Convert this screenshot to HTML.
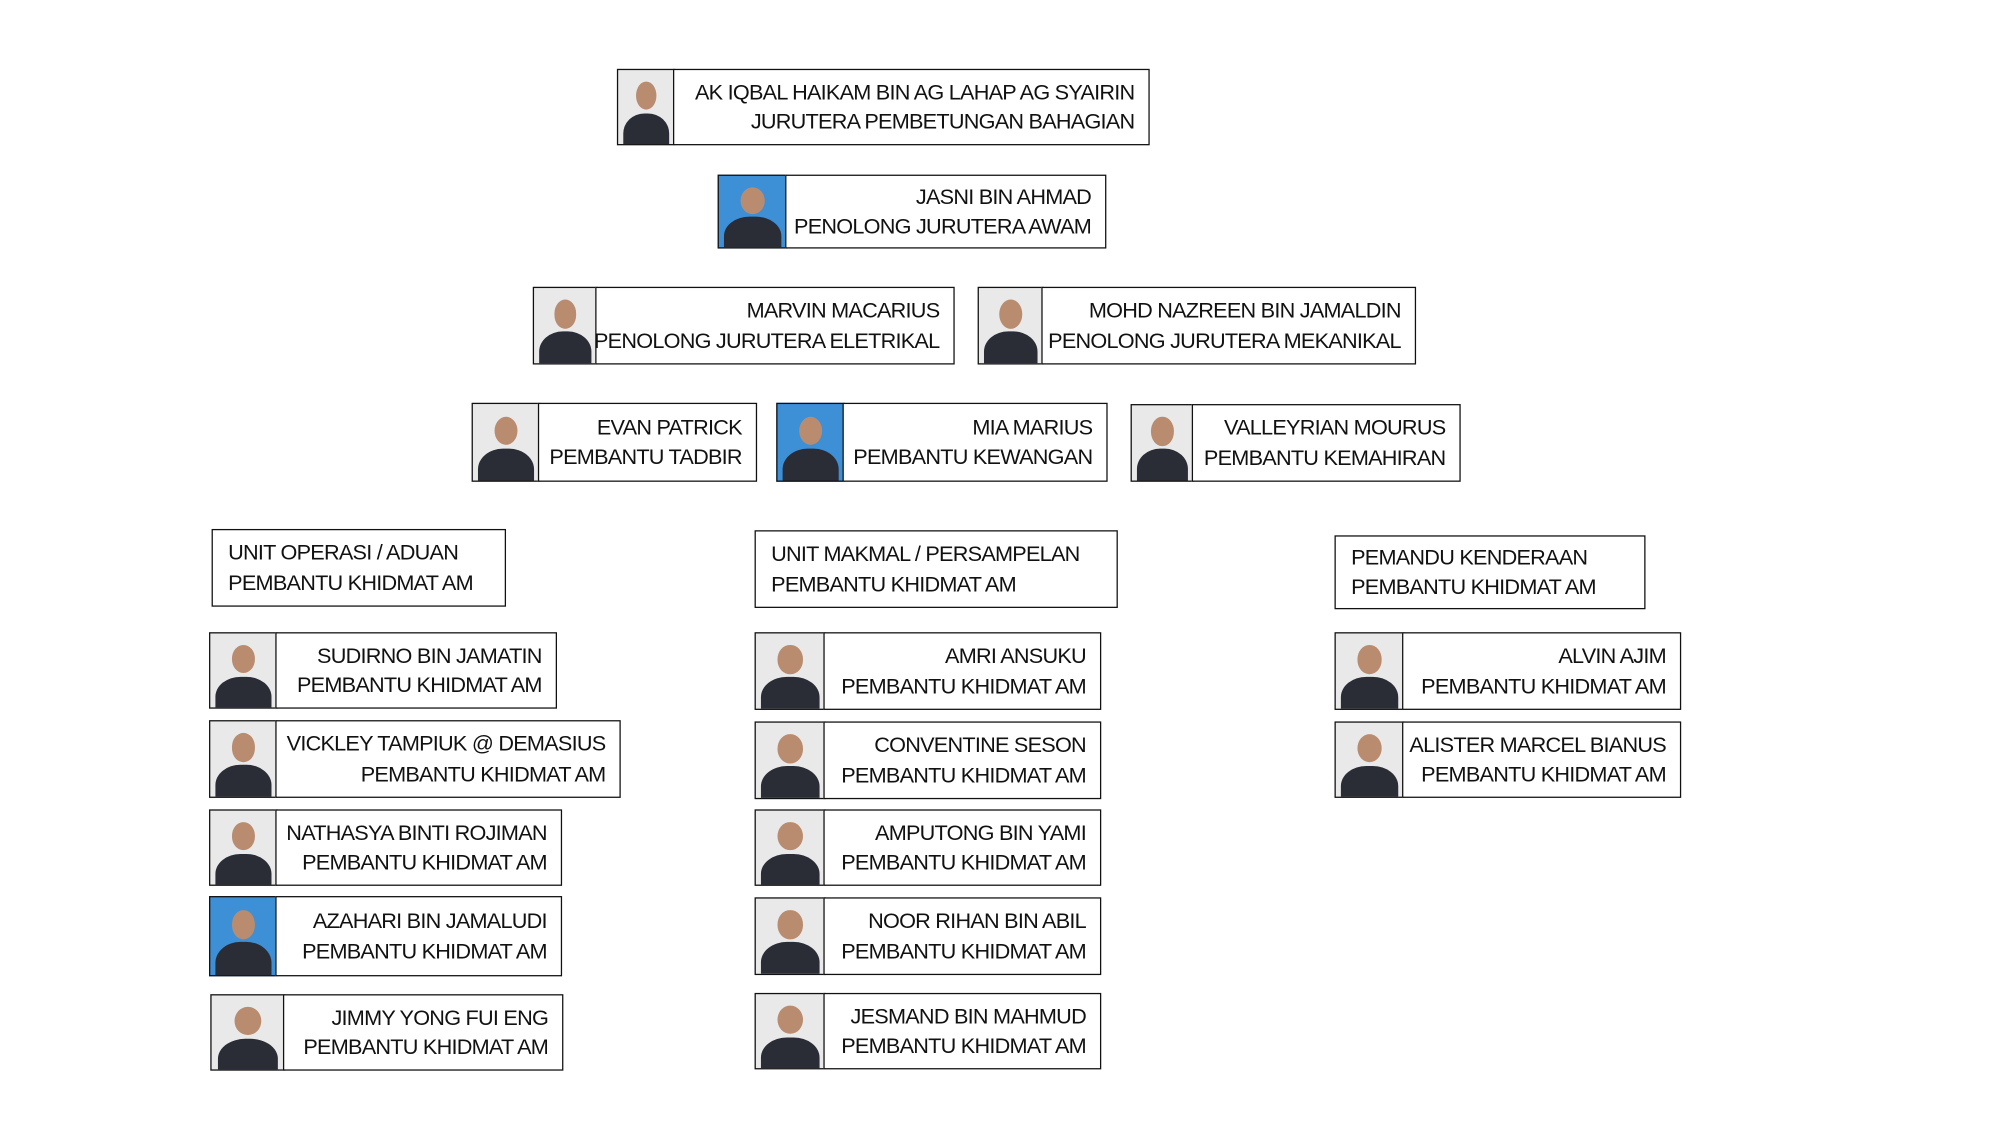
<!DOCTYPE html>
<html><head><meta charset="utf-8"><style>
html,body{margin:0;padding:0;background:#fff;}
body{width:2000px;height:1125px;overflow:hidden;position:relative;}
#w{position:absolute;left:0;top:0;width:1555px;height:875px;transform:scale(1.2746);transform-origin:0 0;}
.b{position:absolute;border:1.6px solid #111;box-sizing:border-box;background:#fff;font-family:"Liberation Sans",sans-serif;font-size:17px;letter-spacing:-0.6px;line-height:23.5px;color:#111;white-space:nowrap;text-align:right;padding-right:11px;display:flex;flex-direction:column;justify-content:center;align-items:flex-end;}
.b.l{align-items:flex-start;padding-left:12px;text-align:left;}
.p{position:absolute;border:1.6px solid #111;box-sizing:border-box;overflow:hidden;background:#e9e9e9;}
.p::before{content:"";position:absolute;left:32%;top:16%;width:36%;height:38%;border-radius:50%;background:#b98c70;}
.p::after{content:"";position:absolute;left:8%;top:58%;width:84%;height:60%;border-radius:45% 45% 0 0;background:#2a2d35;}
.p.blue{background:#3d8fd6;}
</style></head><body><div id="w">
<div class="p" style="left:484px;top:54px;width:46px;height:60px"></div>
<div class="b" style="left:528px;top:54px;width:374px;height:60px"><div>AK IQBAL HAIKAM BIN AG LAHAP AG SYAIRIN</div><div>JURUTERA PEMBETUNGAN BAHAGIAN</div></div>

<div class="p blue" style="left:563px;top:137px;width:55px;height:58px"></div>
<div class="b" style="left:616px;top:137px;width:252px;height:58px"><div>JASNI BIN AHMAD</div><div>PENOLONG JURUTERA AWAM</div></div>

<div class="p" style="left:418px;top:225px;width:51px;height:61px"></div>
<div class="b" style="left:467px;top:225px;width:282px;height:61px"><div>MARVIN MACARIUS</div><div>PENOLONG JURUTERA ELETRIKAL</div></div>

<div class="p" style="left:767px;top:225px;width:52px;height:61px"></div>
<div class="b" style="left:817px;top:225px;width:294px;height:61px"><div>MOHD NAZREEN BIN JAMALDIN</div><div>PENOLONG JURUTERA MEKANIKAL</div></div>

<div class="p" style="left:370px;top:316px;width:54px;height:62px"></div>
<div class="b" style="left:422px;top:316px;width:172px;height:62px"><div>EVAN PATRICK</div><div>PEMBANTU TADBIR</div></div>

<div class="p blue" style="left:609px;top:316px;width:54px;height:62px"></div>
<div class="b" style="left:661px;top:316px;width:208px;height:62px"><div>MIA MARIUS</div><div>PEMBANTU KEWANGAN</div></div>

<div class="p" style="left:887px;top:317px;width:50px;height:61px"></div>
<div class="b" style="left:935px;top:317px;width:211px;height:61px"><div>VALLEYRIAN MOURUS</div><div>PEMBANTU KEMAHIRAN</div></div>

<div class="b l" style="left:166px;top:415px;width:231px;height:61px"><div>UNIT OPERASI / ADUAN</div><div>PEMBANTU KHIDMAT AM</div></div>
<div class="b l" style="left:592px;top:416px;width:285px;height:61px"><div>UNIT MAKMAL / PERSAMPELAN</div><div>PEMBANTU KHIDMAT AM</div></div>
<div class="b l" style="left:1047px;top:420px;width:244px;height:58px"><div>PEMANDU KENDERAAN</div><div>PEMBANTU KHIDMAT AM</div></div>

<div class="p" style="left:164px;top:496px;width:54px;height:60px"></div>
<div class="b" style="left:216px;top:496px;width:221px;height:60px"><div>SUDIRNO BIN JAMATIN</div><div>PEMBANTU KHIDMAT AM</div></div>
<div class="p" style="left:164px;top:565px;width:54px;height:61px"></div>
<div class="b" style="left:216px;top:565px;width:271px;height:61px"><div>VICKLEY TAMPIUK @ DEMASIUS</div><div>PEMBANTU KHIDMAT AM</div></div>
<div class="p" style="left:164px;top:635px;width:54px;height:60px"></div>
<div class="b" style="left:216px;top:635px;width:225px;height:60px"><div>NATHASYA BINTI ROJIMAN</div><div>PEMBANTU KHIDMAT AM</div></div>
<div class="p blue" style="left:164px;top:703px;width:54px;height:63px"></div>
<div class="b" style="left:216px;top:703px;width:225px;height:63px"><div>AZAHARI BIN JAMALUDI</div><div>PEMBANTU KHIDMAT AM</div></div>
<div class="p" style="left:165px;top:780px;width:59px;height:60px"></div>
<div class="b" style="left:222px;top:780px;width:220px;height:60px"><div>JIMMY YONG FUI ENG</div><div>PEMBANTU KHIDMAT AM</div></div>

<div class="p" style="left:592px;top:496px;width:56px;height:61px"></div>
<div class="b" style="left:646px;top:496px;width:218px;height:61px"><div>AMRI ANSUKU</div><div>PEMBANTU KHIDMAT AM</div></div>
<div class="p" style="left:592px;top:566px;width:56px;height:61px"></div>
<div class="b" style="left:646px;top:566px;width:218px;height:61px"><div>CONVENTINE SESON</div><div>PEMBANTU KHIDMAT AM</div></div>
<div class="p" style="left:592px;top:635px;width:56px;height:60px"></div>
<div class="b" style="left:646px;top:635px;width:218px;height:60px"><div>AMPUTONG BIN YAMI</div><div>PEMBANTU KHIDMAT AM</div></div>
<div class="p" style="left:592px;top:704px;width:56px;height:61px"></div>
<div class="b" style="left:646px;top:704px;width:218px;height:61px"><div>NOOR RIHAN BIN ABIL</div><div>PEMBANTU KHIDMAT AM</div></div>
<div class="p" style="left:592px;top:779px;width:56px;height:60px"></div>
<div class="b" style="left:646px;top:779px;width:218px;height:60px"><div>JESMAND BIN MAHMUD</div><div>PEMBANTU KHIDMAT AM</div></div>

<div class="p" style="left:1047px;top:496px;width:55px;height:61px"></div>
<div class="b" style="left:1100px;top:496px;width:219px;height:61px"><div>ALVIN AJIM</div><div>PEMBANTU KHIDMAT AM</div></div>
<div class="p" style="left:1047px;top:566px;width:55px;height:60px"></div>
<div class="b" style="left:1100px;top:566px;width:219px;height:60px"><div>ALISTER MARCEL BIANUS</div><div>PEMBANTU KHIDMAT AM</div></div>
</div></body></html>
